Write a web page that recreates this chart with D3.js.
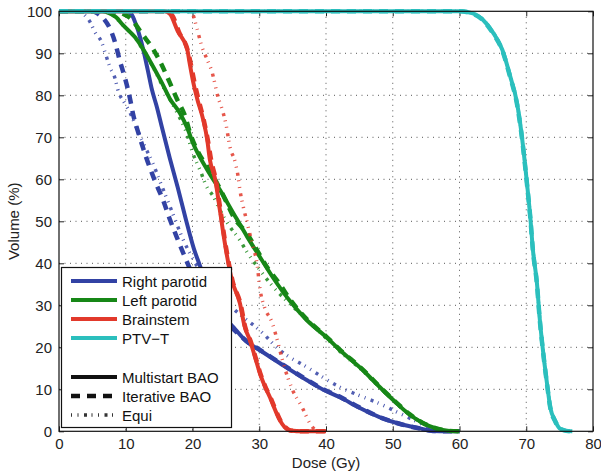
<!DOCTYPE html>
<html>
<head>
<meta charset="utf-8">
<script src="https://cdn.jsdelivr.net/npm/d3@7"></script>
<style>
  html, body { margin: 0; padding: 0; background: #fff; }
  svg { display: block; font-family: "Liberation Sans", Arial, Helvetica, sans-serif; }
</style>
</head>
<body>
<svg id="chart" width="601" height="475"></svg>
<script>
// Dose-volume histograms: [dose (Gy), volume (%)]
const rightParotidMulti = [[0,100],[10,100],[10.8,99.4],[11.5,97],[12.2,93.5],[12.6,91],[13.3,86],[13.9,81.5],[14.7,77],[15.4,72.5],[16.6,65],[17.8,58],[19,50.5],[20.2,43.5],[21.1,39.5],[22,35.5],[23,32],[24,29],[25,26.8],[26.4,24.3],[28,21.5],[30.1,19.3],[33.1,16.2],[37.1,12.2],[39.6,9.9],[42.1,8.1],[45,5.6],[48,3.4],[51,1.8],[54,0.7],[56,0.1],[58,0],[60,0]];
const rightParotidIter = [[0,100],[5,100],[6,99.2],[6.8,98],[7.6,96],[8.4,92.6],[9.1,88.3],[9.9,84],[10.6,79.5],[11.1,75.5],[12,70.5],[13,65.5],[14.4,59.5],[15.6,55],[16.6,50.5],[17.7,46],[18.6,42.5],[19.8,38],[21,34.2],[22.5,30.5],[24,27.5],[25.5,25.3],[27,23],[28.5,21],[30.1,19.4],[33.1,16.3],[37.1,12.3],[39.6,10],[42.1,8.2],[45,5.7],[48,3.4],[51,1.8],[54,0.7],[56,0.1],[58,0],[60,0]];
const rightParotidEqui = [[0,100],[3,100],[3.9,99],[4.6,97.6],[5.4,95],[6.4,92.6],[6.9,90.2],[7.6,86.8],[8.4,84],[8.8,81.4],[9.9,78],[10.9,75],[11.4,73],[12.5,69],[14,64],[15.5,58],[17,52],[18.5,46],[20,41.2],[21.5,37.4],[23,34.2],[24.7,31.4],[26.4,28.8],[27.6,27.2],[30.1,24],[33.1,19.3],[37.1,15.3],[42.1,10.5],[45.5,8.2],[48,6.6],[51,4.3],[53.5,2.4],[55.5,0.9],[57,0.2],[59,0],[60,0]];

const leftParotidMulti = [[0,100],[6.5,100],[7.6,99.5],[8.6,98.5],[9.6,96.7],[11.4,93.8],[12.6,91],[13.9,87.4],[15.4,83],[16.6,79.2],[18.1,75.8],[19.2,72.3],[20.1,68.5],[22.2,62.3],[24.1,57.5],[26.1,52],[28.2,46.3],[30.1,41.5],[32.1,36.5],[34.6,31],[37.1,26.5],[40,22.5],[42.1,19.3],[45.5,14.6],[48,10.6],[50.5,6.8],[52.5,4],[54.5,2],[56.5,0.7],[58.5,0.1],[60,0]];
const leftParotidIter = [[0,100],[8.5,100],[9.6,99.4],[10.4,98.7],[11.1,97.6],[12.5,94.5],[14.1,91],[15.4,87.2],[16.6,83],[17.7,79],[18.9,75],[19.6,71.2],[20.8,66.6],[22.2,63],[23.7,59],[24.9,55.2],[26.1,51.2],[28.2,47],[29.7,43],[31.2,39],[33.1,35],[34.6,31.4],[37.1,26.7],[40,22.6],[42.1,19.4],[45.5,14.7],[48,10.7],[50.5,6.9],[52.5,4.1],[54.5,2],[56.5,0.7],[58.5,0.1],[60,0]];
const leftParotidEqui = [[0,100],[6.5,100],[7.6,99.5],[9.6,96.7],[11.4,93.6],[12.6,90.8],[14,87],[15.4,82.6],[16.8,78.5],[17.8,75.5],[19,71.5],[20.1,66],[21.1,62.3],[22.2,58],[23.1,56],[24.1,52.7],[25.6,48.7],[27.1,45.5],[28.2,42.6],[30.1,38.4],[31.6,35.3],[33.5,32],[35.5,29],[37.5,26],[40,22.2],[42.1,19],[45.5,14.4],[48,10.5],[50.5,6.8],[52.5,4],[54.5,2],[56.5,0.7],[58.5,0.1],[60,0]];

const brainstemMulti = [[0,100],[15.8,100],[16.6,99.4],[17.8,95.2],[19.2,91],[19.6,87.4],[20.1,83.2],[20.7,79.2],[21.6,74.2],[22.2,69.5],[22.6,64.7],[23.4,60],[24.1,52.7],[24.6,47.3],[25.2,41.5],[25.9,36],[27.1,30.5],[27.8,25],[28.6,21.7],[29.4,17.5],[30.1,13.8],[30.9,10.5],[31.6,8.1],[32.4,5],[33.1,2.6],[33.8,1],[34.6,0.2],[36.6,0],[40,0]];
const brainstemIter = [[0,100],[16,100],[16.9,99.2],[18,95],[19.3,90.6],[19.8,87],[20.3,83],[20.9,79],[21.7,74],[22.3,69.3],[22.8,64.5],[23.5,59.8],[24.2,52.5],[24.7,47],[25.3,41.2],[26,35.8],[27.2,30.3],[27.9,24.8],[28.7,21.5],[29.5,17.3],[30.2,13.6],[31,10.3],[31.7,8],[32.5,4.9],[33.2,2.5],[33.9,1],[34.7,0.2],[36.7,0],[40,0]];
const brainstemEqui = [[0,100],[19,100],[19.9,99.6],[20.7,95.7],[21.4,91.6],[22.2,88.5],[22.9,85.7],[23.8,79.7],[24.6,75.8],[25,73.2],[25.6,67.8],[26.4,64],[26.8,61],[27.1,57.5],[27.6,53.5],[28.2,49.6],[28.9,44.9],[29.7,39.5],[30.1,34],[30.8,29.5],[31.9,26],[32.7,21.7],[33.6,16.2],[35,9.8],[36.4,5.8],[37.6,1.9],[38.6,0.2],[40,0]];

const ptvMulti = [[0,100],[60,100],[62,99.5],[63.5,98],[65,95],[66.4,90.9],[67.6,84.5],[68.6,78.3],[69.4,69.5],[70.1,59.2],[70.6,51.1],[71,43.2],[71.6,35.3],[72,27.2],[72.5,19.3],[73.1,11.5],[73.6,5.7],[74.3,2.6],[75,0.7],[76,0.1],[76.9,0]];
const ptvIter = [[0,100],[60,100],[62,99.4],[63.5,97.9],[65,94.8],[66.4,90.7],[67.6,84.3],[68.6,78],[69.4,69.3],[70.1,59],[70.6,51],[71,43],[71.6,35.1],[72,27],[72.5,19.2],[73.1,11.4],[73.6,5.6],[74.3,2.5],[75,0.7],[76,0.1],[76.9,0]];
const ptvEqui = [[0,100],[60,100],[62,99.5],[63.5,98.1],[65,95.1],[66.4,91],[67.6,84.6],[68.6,78.4],[69.4,69.7],[70.1,59.4],[70.6,51.3],[71,43.4],[71.6,35.5],[72,27.4],[72.5,19.5],[73.1,11.6],[73.6,5.8],[74.3,2.7],[75,0.8],[76,0.1],[76.9,0]];

const structures = ["Right parotid", "Left parotid", "Brainstem", "PTV\u2212T"];
const plans = ["Multistart BAO", "Iterative BAO", "Equi"];
const xTicks = [0, 10, 20, 30, 40, 50, 60, 70, 80];
const yTicks = [0, 10, 20, 30, 40, 50, 60, 70, 80, 90, 100];

const colors = {"Right parotid": "#3242a4", "Left parotid": "#178717", "Brainstem": "#e2392b", "PTV\u2212T": "#2bbfbd"};
const planStyle = {
  "Multistart BAO": {width: 4, dash: null, opacity: 1},
  "Iterative BAO": {width: 4.5, dash: "9,7", opacity: 1},
  "Equi": {width: 3.5, dash: "1,5.5,1,5.5,3,4.5", opacity: 0.85}
};

const curves = [
  {s: "Right parotid", p: "Equi", d: rightParotidEqui},
  {s: "Right parotid", p: "Iterative BAO", d: rightParotidIter},
  {s: "Right parotid", p: "Multistart BAO", d: rightParotidMulti},
  {s: "Left parotid", p: "Equi", d: leftParotidEqui},
  {s: "Left parotid", p: "Iterative BAO", d: leftParotidIter},
  {s: "Left parotid", p: "Multistart BAO", d: leftParotidMulti},
  {s: "Brainstem", p: "Equi", d: brainstemEqui},
  {s: "Brainstem", p: "Iterative BAO", d: brainstemIter},
  {s: "Brainstem", p: "Multistart BAO", d: brainstemMulti},
  {s: "PTV\u2212T", p: "Equi", d: ptvEqui},
  {s: "PTV\u2212T", p: "Iterative BAO", d: ptvIter},
  {s: "PTV\u2212T", p: "Multistart BAO", d: ptvMulti}
];

const svg = d3.select("#chart");
const plotL = 59, plotR = 593, plotT = 11.3, plotB = 431.3;
const x = d3.scaleLinear().domain([0, 80]).range([plotL, plotR]);
const y = d3.scaleLinear().domain([0, 100]).range([plotB, plotT]);

// dotted grid
const grid = svg.append("g").attr("stroke", "#555").attr("stroke-width", 1)
  .attr("stroke-dasharray", "1,4.5");
grid.selectAll(".gx").data(xTicks.slice(1, -1)).join("line")
  .attr("x1", d => x(d)).attr("x2", d => x(d)).attr("y1", plotT).attr("y2", plotB);
grid.selectAll(".gy").data(yTicks.slice(1, -1)).join("line")
  .attr("y1", d => y(d)).attr("y2", d => y(d)).attr("x1", plotL).attr("x2", plotR);

// axes with inward ticks
const fontSize = 15;
const xAxis = svg.append("g").attr("transform", `translate(0,${plotB})`)
  .call(d3.axisBottom(x).tickValues(xTicks).tickSize(-5).tickPadding(7).tickSizeOuter(0));
const xTop = svg.append("g").attr("transform", `translate(0,${plotT})`)
  .call(d3.axisTop(x).tickValues(xTicks).tickSize(-5).tickFormat("").tickSizeOuter(0));
const yAxis = svg.append("g").attr("transform", `translate(${plotL},0)`)
  .call(d3.axisLeft(y).tickValues(yTicks).tickSize(-5).tickPadding(7).tickSizeOuter(0));
const yRight = svg.append("g").attr("transform", `translate(${plotR},0)`)
  .call(d3.axisRight(y).tickValues(yTicks).tickSize(-5).tickFormat("").tickSizeOuter(0));
[xAxis, xTop, yAxis, yRight].forEach(g => {
  g.select(".domain").remove();
  g.selectAll("line").attr("stroke", "#222");
  g.selectAll("text").attr("font-size", fontSize).attr("fill", "#222")
    .attr("font-family", "'Liberation Sans', Arial, sans-serif");
});

// curves
const line = d3.line().x(d => x(d[0])).y(d => y(d[1])).curve(d3.curveMonotoneX);
svg.append("g").selectAll("path").data(curves).join("path")
  .attr("d", c => line(c.d))
  .attr("fill", "none")
  .attr("stroke", c => colors[c.s])
  .attr("stroke-width", c => planStyle[c.p].width)
  .attr("stroke-dasharray", c => planStyle[c.p].dash)
  .attr("stroke-opacity", c => planStyle[c.p].opacity)
  .attr("stroke-linejoin", "round");

// plot frame
svg.append("rect").attr("x", plotL).attr("y", plotT)
  .attr("width", plotR - plotL).attr("height", plotB - plotT)
  .attr("fill", "none").attr("stroke", "#111").attr("stroke-width", 1.2);

// axis titles
svg.append("text").attr("x", x(40)).attr("y", 468).attr("text-anchor", "middle")
  .attr("font-size", fontSize).attr("fill", "#222").text("Dose (Gy)");
svg.append("text").attr("transform", `translate(19,${y(50)}) rotate(-90)`)
  .attr("text-anchor", "middle").attr("font-size", fontSize).attr("fill", "#222").text("Volume (%)");

// legend
const lg = svg.append("g");
lg.append("rect").attr("x", 61.5).attr("y", 267.5).attr("width", 170).attr("height", 160)
  .attr("fill", "#fff").attr("stroke", "#111").attr("stroke-width", 1.2);
const legendRows = [
  ...structures.map((s, i) => ({label: s, color: colors[s], width: 4, dash: null, op: 1, yy: 281 + i * 19})),
  ...plans.map((p, i) => ({label: p, color: "#111", width: planStyle[p].width,
    dash: planStyle[p].dash, op: planStyle[p].opacity, yy: 377 + i * 19}))
];
const rows = lg.selectAll("g.row").data(legendRows).join("g");
rows.append("line").attr("x1", 71).attr("x2", 117)
  .attr("y1", d => d.yy).attr("y2", d => d.yy)
  .attr("stroke", d => d.color).attr("stroke-width", d => d.width)
  .attr("stroke-opacity", d => d.op)
  .attr("stroke-dasharray", d => d.dash);
rows.append("text").attr("x", 122).attr("y", d => d.yy + 5.5)
  .attr("font-size", fontSize).attr("fill", "#111").text(d => d.label);
</script>
</body>
</html>
